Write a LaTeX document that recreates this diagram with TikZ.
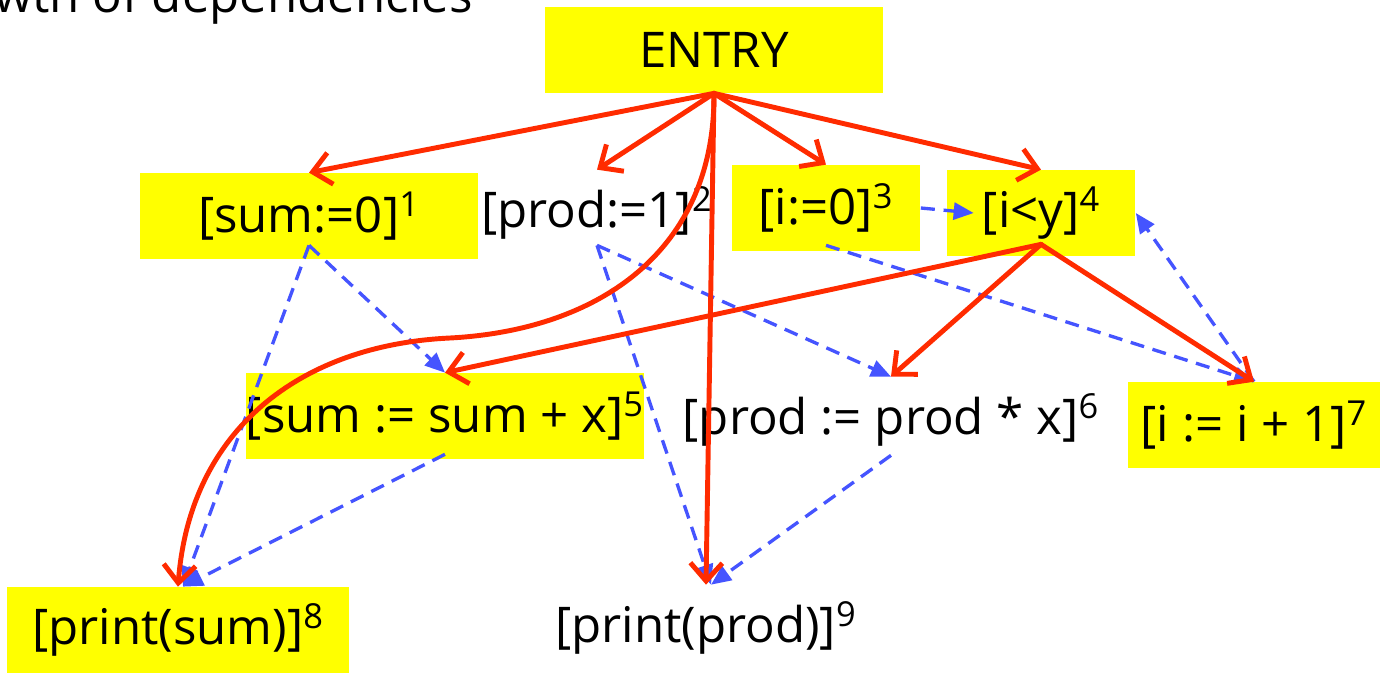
\documentclass[tikz,border=0pt]{standalone}
\usepackage{fontspec}
\setmainfont{Open Sans}
\usepackage{tikz}
\usetikzlibrary{arrows.meta, calc, positioning}
\definecolor{stmtyellow}{rgb}{1, 1, 0}
\definecolor{ctrlred}{rgb}{1, 0.17, 0}
\definecolor{datablue}{rgb}{0.27, 0.33, 1}

\begin{document}
\begin{tikzpicture}[x=0.02cm, y=-0.02cm,
    stmt/.style={minimum height=1.72cm, inner sep=0pt, font=\fontsize{28}{32}\selectfont},
    hilite/.style={stmt, fill=stmtyellow},
    ctrl/.style={-{Straight Barb[length=3.6mm, width=6.4mm]}, draw=ctrlred, line width=2.8pt, line cap=round, line join=round},
    datadep/.style={-{Triangle[length=4mm, width=3.4mm]}, draw=datablue, line width=1.9pt, dash pattern=on 8pt off 5pt}]
        \useasboundingbox (0,0) rectangle (1380,673);
        \node [anchor=base west, font=\fontsize{28}{32}\selectfont] (hdr) at (-12,12) {wth of dependencies};

        \node [hilite, minimum width=6.76cm] (entry) at (714,50) {ENTRY};
        \node [hilite, minimum width=6.76cm] (s1) at (309,216) {[sum:=0]\textsuperscript{1}};
        \node [stmt] (s2) at (597,213) {[prod:=1]\textsuperscript{2}};
        \node [hilite, minimum width=3.78cm] (s3) at (826,208) {[i:=0]\textsuperscript{3}};
        \node [hilite, minimum width=3.78cm] (s4) at (1041,213) {[i<y]\textsuperscript{4}};
        \node [hilite, minimum width=7.92cm] (s5) at (445,416) {[sum := sum + x]\textsuperscript{5}};
        \node [stmt] (s6) at (891,420) {[prod := prod * x]\textsuperscript{6}};
        \node [hilite, minimum width=5.04cm] (s7) at (1254,425) {[i := i + 1]\textsuperscript{7}};
        \node [hilite, minimum width=6.86cm] (s8) at (178,630) {[print(sum)]\textsuperscript{8}};
        \node [stmt] (s9) at (706,628) {[print(prod)]\textsuperscript{9}};

        \draw [datadep] ([yshift=0.28cm]s1.south) -- (s5.north);
        \draw [datadep] ([yshift=0.28cm]s1.south) -- ([xshift=0.1cm]s8.north);
        \draw [datadep] ([yshift=0.1cm]s5.south) -- ([xshift=0.1cm]s8.north);
        \draw [datadep] ([yshift=0.22cm]s2.south) -- (s6.north);
        \draw [datadep] ([yshift=0.22cm]s2.south) -- ([xshift=0.1cm]s9.north);
        \draw [datadep] ([yshift=0.16cm]s6.south) -- ([xshift=0.1cm]s9.north);
        \draw [datadep] ([yshift=0.12cm]s3.south) -- (s7.north);
        \draw [datadep] (s3.east) -- ([xshift=0.55cm]s4.west);
        \draw [datadep] (s7.north) -- (s4.east);

        \draw [ctrl] (entry.south) -- (s1.north);
        \draw [ctrl] (entry.south) -- (s2.north);
        \draw [ctrl] (entry.south) -- (s3.north);
        \draw [ctrl] (entry.south) -- (s4.north);
        \draw [ctrl] (entry.south) .. controls (715,250) and (600,330) .. (450,338) .. controls (300,345) and (190,430) .. (s8.north);
        \draw [ctrl] (entry.south) -- (s9.north);
        \draw [ctrl] ([yshift=0.24cm]s4.south) -- (s5.north);
        \draw [ctrl] ([yshift=0.24cm]s4.south) -- (s6.north);
        \draw [ctrl] ([yshift=0.24cm]s4.south) -- (s7.north);
\end{tikzpicture}
\end{document}
